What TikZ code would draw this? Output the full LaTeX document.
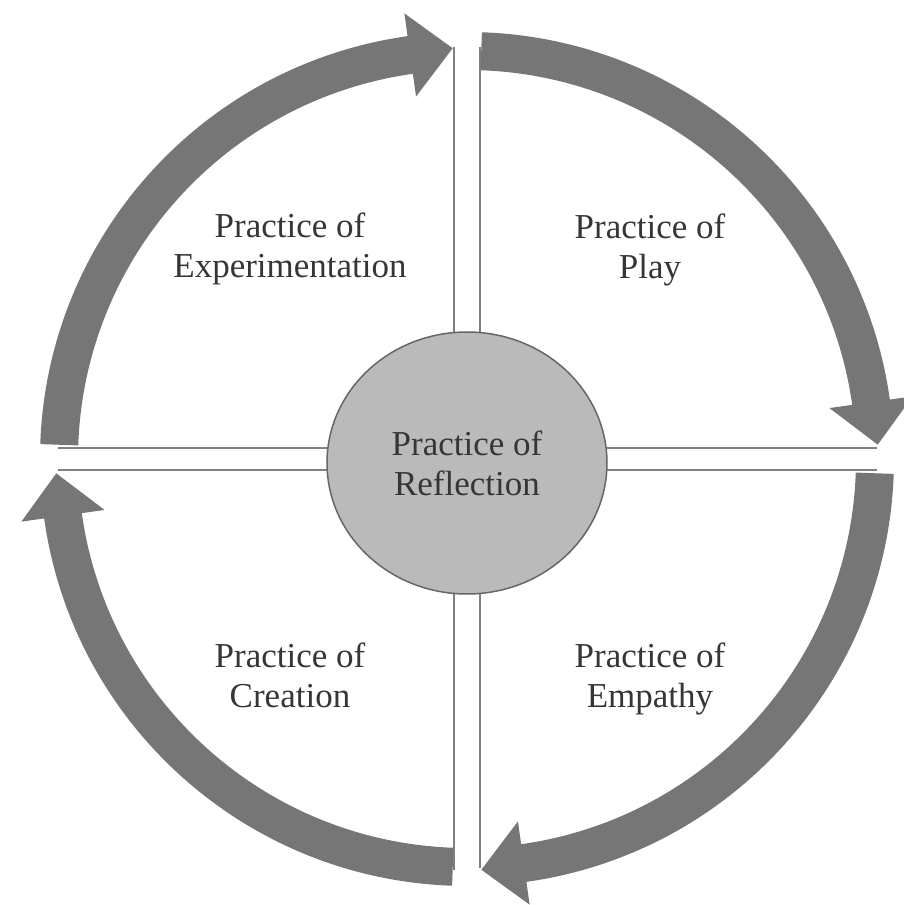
\documentclass[tikz,border=0pt]{standalone}
\usepackage{fontspec}
\setmainfont{Liberation Serif}
\usetikzlibrary{shapes.geometric}

\definecolor{bandgray}{HTML}{767676}
\definecolor{linegray}{HTML}{808080}
\definecolor{discgray}{HTML}{BABABA}
\definecolor{textgray}{HTML}{363636}

\begin{document}
\begin{tikzpicture}[
                x=1pt, y=1pt, % 以像素为单位
                divider/.style={draw=linegray, line width=2.6pt}, % 分隔线
                band/.style={fill=bandgray}, % 弧形箭头
                label/.style={
                    align=center, % 居中
                    inner sep=0, % 内边距为 0
                    text=textgray, % 文字颜色
                    font=\fontsize{35}{40}\selectfont % 字体大小
                }
            ]
            \useasboundingbox (-467,-446) rectangle (436,459);

            % 四条分隔线
            \coordinate (n1) at (-13,412);
            \coordinate (s1) at (-13,-411);
            \coordinate (n2) at (13,412);
            \coordinate (s2) at (13,-409);
            \coordinate (w1) at (-409,11);
            \coordinate (e1) at (410,11);
            \coordinate (w2) at (-409,-11);
            \coordinate (e2) at (410,-11);
            \draw[divider] (n1) -- (s1);
            \draw[divider] (n2) -- (s2);
            \draw[divider] (w1) -- (e1);
            \draw[divider] (w2) -- (e2);

            % 四段顺时针的弧形箭头
            \foreach \a in {180, 90, 0, -90} {
                \fill[band] ({\a-2}:427)
                    arc[start angle=\a-2, end angle=\a-82, radius=427]
                    -- ({\a-82}:450) -- ({\a-88}:411) -- ({\a-82}:366)
                    -- ({\a-82}:389)
                    arc[start angle=\a-82, end angle=\a-2, radius=389]
                    -- cycle;
            }

            % 中心的椭圆
            \node(0) [ellipse, draw=black!60, line width=1.5pt, fill=discgray,
                minimum width=280, minimum height=262, label]
                at (0,-4) {Practice of\\Reflection};

            % 四个象限的文字
            \node(1) [label] at (-177,210) {Practice of\\Experimentation};
            \node(2) [label] at (183,209) {Practice of\\Play};
            \node(3) [label] at (-177,-216) {Practice of\\Creation};
            \node(4) [label] at (183,-220) {Practice of\\Empathy};
        \end{tikzpicture}
\end{document}
